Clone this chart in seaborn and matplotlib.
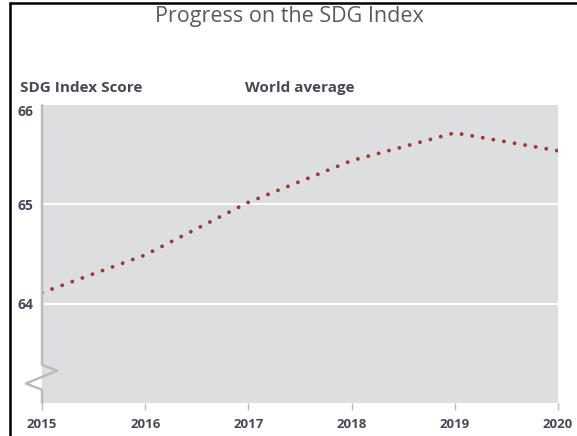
import matplotlib
matplotlib.use("Agg")
import matplotlib.pyplot as plt
from matplotlib.lines import Line2D
import pandas as pd
import seaborn as sns

# =========================
# DATA
# =========================
years = [2015, 2016, 2017, 2018, 2019, 2020]
scores = [64.11, 64.49, 65.02, 65.44, 65.72, 65.54]
y_ticks = [64, 65, 66]

df = pd.DataFrame({"year": years, "score": scores})

# =========================
# STYLE
# =========================
sns.set_style("white", {"axes.facecolor": "#dddee0"})
plt.rcParams["font.family"] = ["Open Sans", "DejaVu Sans"]

text_col = "#434955"

fig = plt.figure(figsize=(5.77, 4.36), dpi=100)
ax = fig.add_axes([0.0728, 0.076, 0.894, 0.683])

sns.lineplot(data=df, x="year", y="score", ax=ax,
             color="#a3363c", linewidth=2.8,
             linestyle=(0, (0.01, 2.75)), dash_capstyle="round")

ax.set_xlim(2015, 2020)
ax.set_ylim(63, 66)
ax.set_xticks(years)
ax.set_xticklabels([str(y) for y in years])
ax.set_yticks(y_ticks)
ax.set_yticklabels([str(t) for t in y_ticks])
ax.set_xlabel("")
ax.set_ylabel("")

# white horizontal grid
for t in y_ticks[:-1]:
    ax.axhline(t, color="white", linewidth=1.4, zorder=1)

for s in ["top", "right", "bottom", "left"]:
    ax.spines[s].set_visible(False)

# left axis line with a break mark
ax.plot([0, 0, 0.029, -0.031, 0, 0], [1, 0.128, 0.108, 0.065, 0.044, 0],
        transform=ax.transAxes, color="#b9bbbf", linewidth=1.8,
        clip_on=False, zorder=3)

ax.tick_params(axis="x", length=5, width=1, color="#b9bbbf", pad=6,
               labelsize=9.5, labelcolor=text_col, direction="out", bottom=True)
ax.tick_params(axis="y", length=0, pad=6, labelsize=10, labelcolor=text_col)
for lab in ax.get_xticklabels() + ax.get_yticklabels():
    lab.set_fontweight("bold")
ax.get_yticklabels()[-1].set_verticalalignment("top")

# =========================
# TEXTS
# =========================
fig.text(0.502, 0.962, "Progress on the SDG Index", ha="center", va="center",
         fontsize=15.5, color="#5a5a5a")
fig.text(0.034, 0.798, "SDG Index Score", ha="left", va="center",
         fontsize=11, fontweight="bold", color=text_col)
fig.text(0.425, 0.798, "World average", ha="left", va="center",
         fontsize=11, fontweight="bold", color=text_col)

# frame on left and top
fig.add_artist(Line2D([0.0173, 0.0173], [0, 0.993], color="black", linewidth=1.8))
fig.add_artist(Line2D([0.0173, 1], [0.993, 0.993], color="black", linewidth=1.8))

plt.savefig("out.png", dpi=100)
